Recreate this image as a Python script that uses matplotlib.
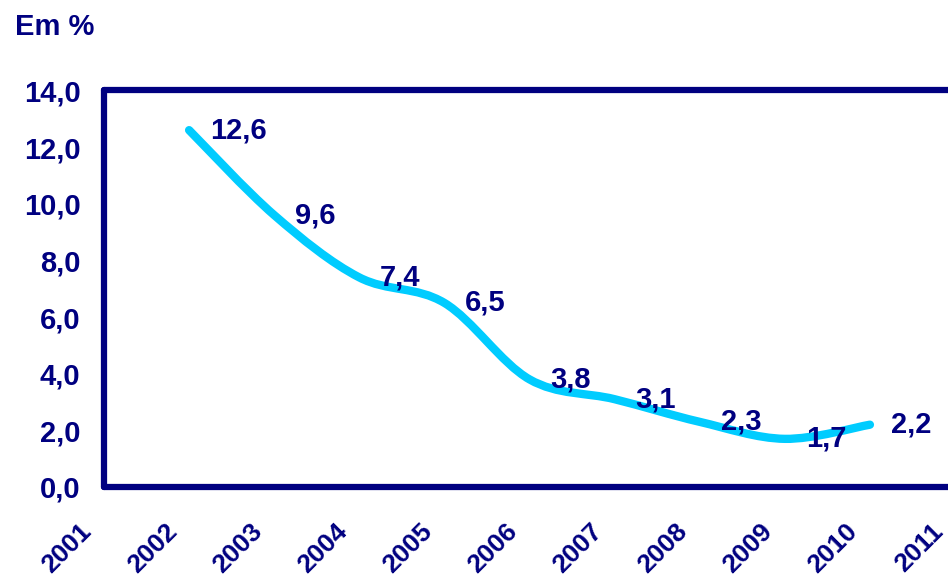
import matplotlib.pyplot as plt
from matplotlib.path import Path
from matplotlib.patches import PathPatch
from matplotlib.transforms import ScaledTranslation
import numpy as np

# Datos
anos = [2002, 2003, 2004, 2005, 2006, 2007, 2008, 2009, 2010]
valores = [12.6, 9.6, 7.4, 6.5, 3.8, 3.1, 2.3, 1.7, 2.2]
anos_eixo = list(range(2001, 2012))
yticks = [0, 2, 4, 6, 8, 10, 12, 14]

azul = '#000080'
ciano = '#00ccff'

plt.rcParams['font.family'] = ['Liberation Sans', 'DejaVu Sans']
plt.rcParams['font.weight'] = 'bold'

fig = plt.figure(figsize=(9.48, 5.79), dpi=100, facecolor='white')
ax = fig.add_axes([104 / 948, 0.1589, 0.8977, 0.6848])

# linha suavizada (bezier tipo Excel)
x = np.array(anos, dtype=float)
y = np.array(valores, dtype=float)
verts = [(x[0], y[0])]
codes = [Path.MOVETO]
for i in range(len(x) - 1):
    x0, y0 = (x[i - 1], y[i - 1]) if i > 0 else (x[i], y[i])
    x3, y3 = (x[i + 2], y[i + 2]) if i + 2 < len(x) else (x[i + 1], y[i + 1])
    c1 = (x[i] + (x[i + 1] - x0) / 6, y[i] + (y[i + 1] - y0) / 6)
    c2 = (x[i + 1] - (x3 - x[i]) / 6, y[i + 1] - (y3 - y[i]) / 6)
    verts += [c1, c2, (x[i + 1], y[i + 1])]
    codes += [Path.CURVE4] * 3
ax.add_patch(PathPatch(Path(verts, codes), facecolor='none', edgecolor=ciano,
                       lw=6, capstyle='round', joinstyle='round', zorder=3))

# rótulos dos valores
for xa, va in zip(anos, valores):
    ax.annotate(f'{va:.1f}'.replace('.', ','), xy=(xa, va), xytext=(15, 0),
                textcoords='offset points', ha='left', va='center',
                fontsize=21, fontweight='bold', color=azul, zorder=4)

ax.set_xlim(2001, 2011)
ax.set_ylim(0, 14)
ax.set_yticks(yticks)
ax.set_yticklabels([f'{v:.1f}'.replace('.', ',') for v in yticks])
ax.set_xticks(anos_eixo)
ax.set_xticklabels([str(a) for a in anos_eixo], rotation=45, ha='right',
                   va='center', rotation_mode='anchor')

ax.tick_params(axis='y', length=0, pad=17, labelsize=21, labelcolor=azul)
ax.tick_params(axis='x', length=0, pad=29, labelsize=19, labelcolor=azul)

# deslocar anos para a esquerda
desloc = ScaledTranslation(-16 / 100, 0, fig.dpi_scale_trans)
for lab in ax.get_xticklabels():
    lab.set_transform(lab.get_transform() + desloc)

ax.spines['right'].set_visible(False)
for s in ['left', 'top', 'bottom']:
    ax.spines[s].set_color(azul)
    ax.spines[s].set_linewidth(4.5)
    ax.spines[s].set_capstyle('round')

fig.text(15 / 948, 1 - 13 / 579, 'Em %', ha='left', va='top', fontsize=21,
         fontweight='bold', color=azul)

plt.savefig('out.png', dpi=100, facecolor='white')
